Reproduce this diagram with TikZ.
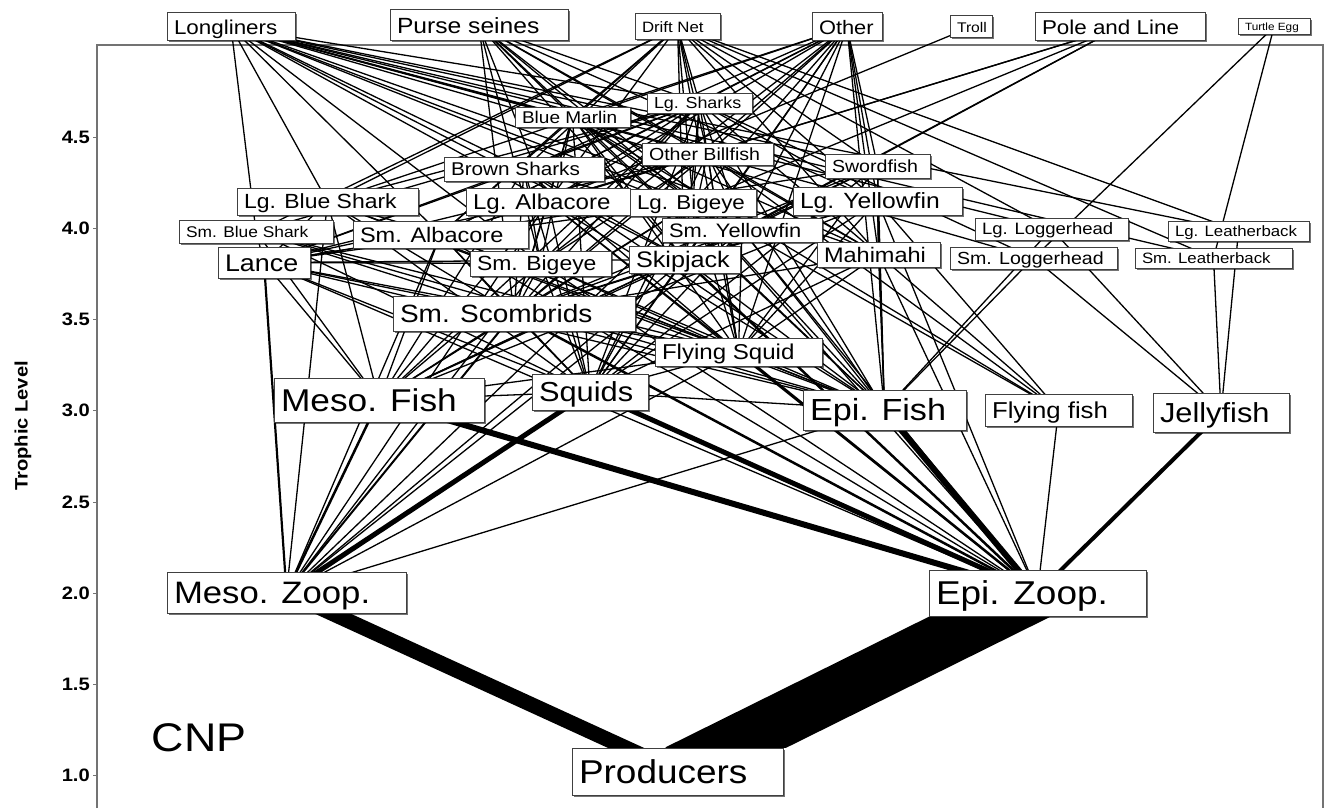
\documentclass[tikz,border=0pt]{standalone}
\usepackage{fontspec}
\setmainfont{Liberation Sans}[FakeStretch=1.12]
\usetikzlibrary{shadows}
\pgfdeclarelayer{bg}
\pgfsetlayers{bg,main}
\newcommand\fsz[1]{\fontsize{#1}{#1}\selectfont}
\newcommand\fwnode[7]{%
  \node[bx, minimum width={#4-#2}, minimum height={#5-#3}] (#1) at ({(#2+#4)/2},{(#3+#5)/2})
  {\makebox[\dimexpr #4pt-#2pt-14pt\relax][l]{\fsz{#6}\rule{0pt}{0.72em}\smash{#7}}};}
\tikzset{
  bx/.style={draw=black!75, line width=1pt, fill=white, inner xsep=7pt, inner ysep=0pt,
    drop shadow={shadow xshift=1.5pt, shadow yshift=-1.5pt, fill=black, opacity=0.55}},
  lk/.style={line width=1.3pt, black},
  frame/.style={draw=black!55, line width=2pt},
  tick/.style={draw=black!55, line width=1pt},
  ticklab/.style={anchor=east, font=\bfseries\fsz{18}, inner sep=0pt}
}
\begin{document}
\begin{tikzpicture}[x=1pt, y=-1pt]
\useasboundingbox (0,0) rectangle (1329,808);
% ---- nodes ----
\fwnode{LL}{167}{13}{295}{41}{20}{Longliners}
\fwnode{PS}{390}{10}{568}{41}{22}{Purse seines}
\fwnode{DN}{635}{14}{720}{40}{15}{Drift Net}
\fwnode{OT}{812}{13}{882}{41}{19.5}{Other}
\fwnode{TR}{950}{16}{992}{38}{14}{Troll}
\fwnode{PL}{1035}{13}{1205}{41}{20}{Pole and Line}
\fwnode{TE}{1238}{19}{1310}{35}{10.5}{Turtle Egg}
\fwnode{BM}{515}{107}{630}{127}{17}{Blue Marlin}
\fwnode{LS}{647}{93}{752}{113}{16}{Lg. Sharks}
\fwnode{OB}{642}{143}{773}{165}{17.5}{Other Billfish}
\fwnode{BS}{444}{157}{604}{181}{18.5}{Brown Sharks}
\fwnode{SW}{825}{154}{930}{178}{17.5}{Swordfish}
\fwnode{LBS}{237}{188}{418}{215}{20.5}{Lg. Blue Shark}
\fwnode{LA}{466}{188}{630}{215}{21.5}{Lg. Albacore}
\fwnode{LB}{630}{189}{756}{216}{20}{Lg. Bigeye}
\fwnode{LY}{793}{187}{962}{215}{22}{Lg. Yellowfin}
\fwnode{SBS}{179}{220}{333}{243}{15.5}{Sm. Blue Shark}
\fwnode{SA}{353}{221}{528}{248}{21}{Sm. Albacore}
\fwnode{SY}{662}{218}{822}{242}{19.5}{Sm. Yellowfin}
\fwnode{LLG}{975}{218}{1128}{240}{16.5}{Lg. Loggerhead}
\fwnode{LLB}{1168}{221}{1309}{241}{15}{Lg. Leatherback}
\fwnode{LN}{218}{247}{310}{278}{24}{Lance}
\fwnode{SB}{470}{251}{611}{276}{20.5}{Sm. Bigeye}
\fwnode{SK}{629}{246}{740}{273}{22.5}{Skipjack}
\fwnode{MM}{817}{242}{940}{267}{21}{Mahimahi}
\fwnode{SLG}{950}{247}{1117}{269}{17.5}{Sm. Loggerhead}
\fwnode{SLB}{1135}{248}{1292}{268}{15}{Sm. Leatherback}
\fwnode{SC}{393}{296}{635}{331}{25}{Sm. Scombrids}
\fwnode{FS}{655}{338}{822}{366}{21.5}{Flying Squid}
\fwnode{SQ}{532}{374}{648}{410}{27.5}{Squids}
\fwnode{MF}{274}{378}{484}{422}{31.5}{Meso. Fish}
\fwnode{EF}{803}{390}{966}{430}{30.5}{Epi. Fish}
\fwnode{FF}{985}{394}{1132}{426}{23}{Flying fish}
\fwnode{JF}{1153}{393}{1289}{432}{27.5}{Jellyfish}
\fwnode{MZ}{167}{572}{406}{613}{31}{Meso. Zoop.}
\fwnode{EZ}{929}{570}{1146}{616}{33}{Epi. Zoop.}
\fwnode{PR}{572}{748}{783}{795}{33}{Producers}
\node[font=\fsz{40}, inner sep=0pt] (cnp) at (199,738) {CNP};
\node[rotate=90, font=\bfseries\fsz{18}] (ylab) at (23,426) {Trophic Level};
\foreach \v/\y/\n in {4.5/137/a,4.0/228/b,3.5/319/c,3.0/410/d,2.5/502/e,2.0/593/f,1.5/684/g,1.0/775/h}{
  \node[ticklab] (tk\n) at (90,\y) {\v};
}
% ---- connectors ----
\begin{pgfonlayer}{bg}
\draw[frame] (97,808) -- (97,45) -- (1323,45) -- (1323,808);
\foreach \y in {137,228,319,410,502,593,684,775} \draw[tick] (93,\y) -- (97,\y);
% fisheries
\foreach \a/\b in {LL/LBS,LL/SBS,LL/LS,LL/BM,LL/OB,LL/BS,LL/SW,LL/LA,LL/SA,LL/LB,LL/SB,LL/LY,LL/SY,LL/MM,LL/SK,LL/LLG,LL/SLG,LL/LLB,LL/SLB,
  PS/LY,PS/SY,PS/SK,PS/LB,PS/SB,PS/MM,PS/BM,PS/OB,PS/LS,PS/SC,PS/LA,PS/EF,
  DN/LBS,DN/SBS,DN/LS,DN/SW,DN/LA,DN/SA,DN/FS,DN/OB,DN/BM,DN/MM,DN/LLB,DN/BS,DN/LB,DN/LY,DN/SK,DN/SLB,DN/LLG,
  OT/LY,OT/SY,OT/SK,OT/MM,OT/EF,OT/LA,OT/SA,OT/LB,OT/SB,OT/BM,OT/OB,OT/SW,OT/BS,OT/LBS,OT/FS,OT/SC,OT/LS,OT/SQ,
  TR/LA,PL/LA,PL/SA,PL/SK,PL/SY,PL/LB,TE/SLG,TE/SLB}
  \draw[lk] (\a.center) -- (\b.center);
% diets
\foreach \a/\b in {LBS/LN,LBS/MF,LBS/SQ,LBS/FS,LBS/SC,LBS/EF,LBS/SA,LBS/MZ,
  SBS/LN,SBS/MF,SBS/SQ,SBS/FS,SBS/EF,SBS/SC,
  LS/SBS,LS/LBS,LS/BS,LS/SA,LS/SB,LS/SY,LS/SK,LS/MM,LS/SQ,LS/FS,LS/EF,LS/SC,LS/MF,LS/SLG,LS/LN,LS/LA,LS/LB,LS/LY,
  BM/SK,BM/SY,BM/SB,BM/SA,BM/MM,BM/SQ,BM/FS,BM/EF,BM/SC,BM/FF,BM/LA,BM/LB,
  OB/SC,OB/SQ,OB/FS,OB/EF,OB/SK,OB/SY,OB/SB,OB/MM,OB/FF,OB/LN,OB/SA,
  SW/SQ,SW/FS,SW/MF,SW/EF,SW/LN,SW/SC,SW/MM,SW/SK,
  BS/SQ,BS/FS,BS/EF,BS/MF,BS/SC,BS/SK,BS/LN,BS/SY,BS/SB,
  LA/LN,LA/MF,LA/SQ,LA/FS,LA/SC,LA/EF,LA/MZ,LA/EZ,
  SA/LN,SA/MF,SA/SQ,SA/FS,SA/SC,SA/EF,SA/MZ,SA/EZ,
  LB/MF,LB/SQ,LB/FS,LB/SC,LB/EF,LB/LN,LB/MZ,LB/EZ,
  SB/MF,SB/SQ,SB/FS,SB/SC,SB/EF,SB/LN,SB/MZ,SB/EZ,
  LY/EF,LY/SQ,LY/FS,LY/SC,LY/SK,LY/FF,LY/EZ,LY/MF,LY/MM,
  SY/EF,SY/SQ,SY/FS,SY/SC,SY/EZ,SY/MF,SY/FF,SY/MZ,
  SK/EF,SK/SQ,SK/SC,SK/MZ,SK/MF,SK/LN,
  MM/EF,MM/FF,MM/SQ,MM/FS,MM/SC,MM/EZ,
  LN/MF,LN/SQ,LN/SC,LN/EF,LN/EZ,LN/FS,
  SC/MF,SC/SQ,SC/EF,FS/MF,FS/EF,FS/MZ,FS/SQ,FS/SC,SQ/MF,SQ/EF,EF/MZ,FF/EZ,
  LLG/JF,LLG/EF,SLG/JF,SLG/EF,LLB/JF,SLB/JF}
  \draw[lk] (\a.center) -- (\b.center);
% heavier flows
\foreach \a/\b/\w in {LN/MZ/2.2,SC/MZ/2,SC/EZ/2.5,FS/EZ/2.5,SK/EZ/2.5,SQ/MZ/5,SQ/EZ/5,MF/MZ/2.5,MF/EZ/6,EF/EZ/6,JF/EZ/4,MZ/PR/15}
  \draw[line width=\w pt] (\a.center) -- (\b.center);
\begin{scope}
  \clip (PR.north west) rectangle (EZ.south east);
  \draw[line width=54pt] (EZ.center) -- (PR.center);
\end{scope}
\end{pgfonlayer}
\end{tikzpicture}
\end{document}
